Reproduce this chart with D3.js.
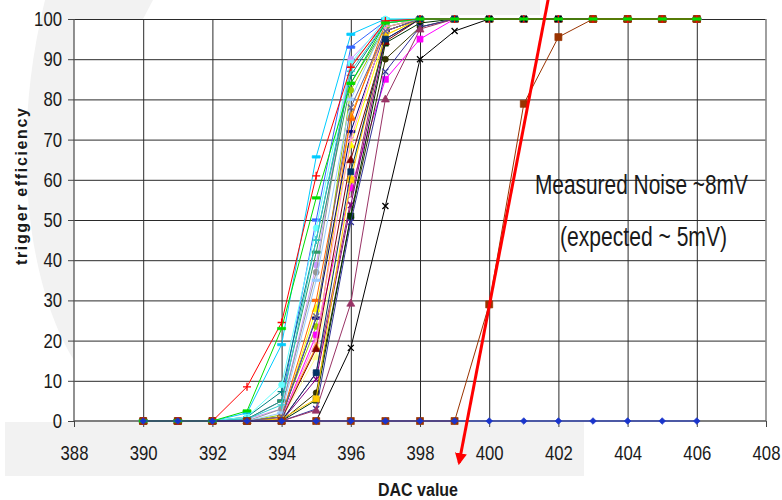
<!DOCTYPE html>
<meta charset="utf-8">
<style>
body { margin: 0; background: #fff; font-family: "Liberation Sans", Arial, sans-serif; }
.tick text { font-size: 20px; fill: #1a1a1a; font-family: "Liberation Sans", Arial, sans-serif; }
.axis path { display: none; }
.axis line { stroke: #444; }
.grid line { stroke: #2a2a2a; stroke-width: 1px; }
.grid path { display: none; }
.series { fill: none; stroke-width: 1px; }
</style>
<body>
<script src="https://d3js.org/d3.v7.min.js"></script>
<script>
// DAC settings scanned
var dacValues = [390, 391, 392, 393, 394, 395, 396, 397, 398, 399, 400, 401, 402, 403, 404, 405, 406];
var xTicks = [388, 390, 392, 394, 396, 398, 400, 402, 404, 406, 408];
var yTicks = [0, 10, 20, 30, 40, 50, 60, 70, 80, 90, 100];

// trigger efficiency (%) per channel, one value per DAC setting
var chSky      = [0, 0, 0, 2, 19, 65.7, 96.2, 100, 100, 100, 100, 100, 100, 100, 100, 100, 100];
var chBlue     = [0, 0, 0, 0.5, 5, 50, 93, 99.5, 100, 100, 100, 100, 100, 100, 100, 100, 100];
var chLavender = [0, 0, 0, 0.5, 3, 38.8, 90, 99, 100, 100, 100, 100, 100, 100, 100, 100, 100];
var chGray     = [0, 0, 0, 0, 3, 37, 88.5, 99, 100, 100, 100, 100, 100, 100, 100, 100, 100];
var chTeal     = [0, 0, 0, 1, 7.3, 45, 86, 99, 100, 100, 100, 100, 100, 100, 100, 100, 100];
var chSeaGreen = [0, 0, 0, 0.5, 5, 42, 84, 98, 100, 100, 100, 100, 100, 100, 100, 100, 100];
var chCyan     = [0, 0, 0, 1, 9, 48, 89, 100, 100, 100, 100, 100, 100, 100, 100, 100, 100];
var chLime     = [0, 0, 0, 0, 1.5, 23.5, 82.3, 98, 100, 100, 100, 100, 100, 100, 100, 100, 100];
var chOrange   = [0, 0, 0, 0, 1, 18.5, 76, 97, 100, 100, 100, 100, 100, 100, 100, 100, 100];
var chYellow   = [0, 0, 0, 0, 0.5, 28, 68.7, 96, 100, 100, 100, 100, 100, 100, 100, 100, 100];
var chNavy     = [0, 0, 0, 0, 1, 25.6, 72, 97, 100, 100, 100, 100, 100, 100, 100, 100, 100];
var chMagenta  = [0, 0, 0, 0, 0.5, 21.4, 58, 85, 95, 100, 100, 100, 100, 100, 100, 100, 100];
var chPaleYel  = [0, 0, 0, 0, 0.5, 16, 61, 96, 100, 100, 100, 100, 100, 100, 100, 100, 100];
var chRing     = [0, 0, 0, 0, 0, 12, 55, 97, 100, 100, 100, 100, 100, 100, 100, 100, 100];
var chPurple   = [0, 0, 0, 0, 0, 10.4, 53.7, 95, 100, 100, 100, 100, 100, 100, 100, 100, 100];
var chDkOlive  = [0, 0, 0, 0, 0, 7, 50.7, 90, 98, 100, 100, 100, 100, 100, 100, 100, 100];
var chDkGreen  = [0, 0, 0, 0, 0, 5.2, 51, 94, 99, 100, 100, 100, 100, 100, 100, 100, 100];
var chIndigo   = [0, 0, 0, 0, 0, 3, 49.5, 86.9, 98, 100, 100, 100, 100, 100, 100, 100, 100];
var chMauve    = [0, 0, 0, 0, 0, 2.7, 29.3, 80.1, 97.5, 100, 100, 100, 100, 100, 100, 100, 100];
var chOrange2  = [0, 0, 0, 0, 1, 30, 75, 99, 100, 100, 100, 100, 100, 100, 100, 100, 100];
var chPink     = [0, 0, 0, 0, 0.5, 20, 70, 98, 100, 100, 100, 100, 100, 100, 100, 100, 100];
var chLtBlue   = [0, 0, 0, 0, 2, 35, 80, 99, 100, 100, 100, 100, 100, 100, 100, 100, 100];
var chMaroon   = [0, 0, 0, 0, 0.5, 18, 65, 94.4, 100, 100, 100, 100, 100, 100, 100, 100, 100];
var chGold     = [0, 0, 0, 0, 0.5, 5.5, 60, 96, 100, 100, 100, 100, 100, 100, 100, 100, 100];
var chTurq     = [0, 0, 0, 0.5, 4, 45, 87, 99, 100, 100, 100, 100, 100, 100, 100, 100, 100];
var chSlate    = [0, 0, 0, 0, 1, 26, 78, 97, 100, 100, 100, 100, 100, 100, 100, 100, 100];
var chDkTeal   = [0, 0, 0, 0, 0, 12, 62, 95, 100, 100, 100, 100, 100, 100, 100, 100, 100];
var chBlack    = [0, 0, 0, 0, 0, 0, 18.2, 53.5, 90, 97, 100, 100, 100, 100, 100, 100, 100];
var chBrown    = [0, 0, 0, 0, 0, 0, 0, 0, 0, 0, 29, 78.9, 95.5, 100, 100, 100, 100];
var chRed      = [0, 0, 0, 8.5, 24.5, 61, 88, 99.5, 100, 100, 100, 100, 100, 100, 100, 100, 100];
var chGreen    = [0, 0, 0, 2.5, 23, 55.5, 84, 99, 100, 100, 100, 100, 100, 100, 100, 100, 100];
var chDead     = [0, 0, 0, 0, 0, 0, 0, 0, 0, 0, 0, 0, 0, 0, 0, 0, 0];

var seriesList = [chSky, chBlue, chLavender, chGray, chTeal, chSeaGreen, chCyan, chLime, chOrange,
    chYellow, chNavy, chMagenta, chPaleYel, chRing, chPurple, chDkOlive, chDkGreen, chIndigo, chMauve,
    chOrange2, chPink, chLtBlue, chMaroon, chGold, chTurq, chSlate, chDkTeal, chBlack, chBrown, chRed,
    chGreen, chDead];

// styles, same order as seriesList
var seriesColors = ["#00ccff", "#3366ff", "#cc99ff", "#969696", "#008080", "#339966", "#66ffff", "#99cc00", "#ff9900",
    "#ffff00", "#000080", "#ff00ff", "#ffff99", "#993366", "#800080", "#333300", "#003300", "#333399", "#993366",
    "#ff6600", "#ff99cc", "#99ccff", "#800000", "#ffcc00", "#33cccc", "#666699", "#003366", "#000000", "#993300", "#ff0000",
    "#00dd00", "#1a35cc"];
var seriesMarkers = ["dash", "dash", "circle", "circle", "plus", "dash", "circle", "circle", "triangle",
    "triangle", "dash", "square", "triangle", "ring", "x", "circle", "square", "x", "triangle",
    "dash", "x", "dash", "triangle", "square", "plus", "x", "square", "x", "square", "plus",
    "dash", "diamond"];
var seriesWidths = [1, 1, 1, 1, 1, 1, 1, 1, 1, 1, 1, 1, 1, 1, 1, 1, 1, 1, 1, 1, 1, 1, 1, 1, 1, 1, 1, 1, 1, 1, 1.8, 2.6];

// annotation: red arrow, given in data units
var arrowFrom = [401.79, 108.7];
var arrowTo = [399.13, -10.4];
var noteLines = ["Measured Noise ~8mV", "(expected ~ 5mV)"];
var noteAt = [[404.4, 56.5], [404.46, 43.5]];

var W = 782, H = 500;
var plot = {left: 74, right: 766, top: 19, bottom: 421};

var x = d3.scaleLinear().domain([388, 408]).range([plot.left, plot.right]);
var y = d3.scaleLinear().domain([0, 100]).range([plot.bottom, plot.top]);

var svg = d3.select("body").append("svg")
    .attr("width", W)
    .attr("height", H);

// faint slide background shapes
svg.append("path")
    .attr("d", "M45,0 L153,0 L143,19 L74,19 L74,360 C30,290 8,150 45,0 Z")
    .attr("fill", "#f2f2f2");
svg.append("rect").attr("x", 5).attr("y", 422).attr("width", 579).attr("height", 54).attr("fill", "#f2f2f2");
svg.append("rect").attr("x", 440).attr("y", 0).attr("width", 100).attr("height", 15).attr("fill", "#f2f2f2");

// plot area
svg.append("rect")
    .attr("x", plot.left).attr("y", plot.top)
    .attr("width", plot.right - plot.left).attr("height", plot.bottom - plot.top)
    .attr("fill", "#fff");

// grid
svg.append("g")
    .attr("class", "grid")
    .attr("transform", "translate(" + plot.left + ",0)")
    .call(d3.axisLeft(y).tickValues(yTicks.slice(1)).tickSize(-(plot.right - plot.left)).tickFormat(""))
    .selectAll("line").attr("stroke", function (d) { return d === 100 ? "#777" : "#333"; })
    .attr("stroke-width", function (d) { return d === 100 ? 1.6 : 1; });
svg.append("g")
    .attr("class", "grid")
    .attr("transform", "translate(0," + plot.bottom + ")")
    .call(d3.axisBottom(x).tickValues(xTicks.slice(1, -1)).tickSize(-(plot.bottom - plot.top)).tickFormat(""));

// plot border (right) and axis lines
svg.append("line").attr("x1", plot.right).attr("x2", plot.right).attr("y1", plot.top).attr("y2", plot.bottom)
    .attr("stroke", "#888").attr("stroke-width", 1.6);
svg.append("line").attr("x1", plot.left).attr("x2", plot.left).attr("y1", plot.top).attr("y2", plot.bottom)
    .attr("stroke", "#555").attr("stroke-width", 1.3);
svg.append("line").attr("x1", plot.left).attr("x2", plot.right).attr("y1", plot.bottom).attr("y2", plot.bottom)
    .attr("stroke", "#555").attr("stroke-width", 1.6);

// axes
svg.append("g")
    .attr("class", "axis")
    .attr("transform", "translate(" + plot.left + ",0)")
    .call(d3.axisLeft(y).tickValues(yTicks).tickSize(6).tickPadding(6));
svg.append("g")
    .attr("class", "axis")
    .attr("transform", "translate(0," + plot.bottom + ")")
    .call(d3.axisBottom(x).tickValues(xTicks).tickSize(6).tickPadding(19));
svg.selectAll(".axis .tick text")
    .attr("textLength", function (d) { return String(d).length * 9.3; })
    .attr("lengthAdjust", "spacingAndGlyphs");

// marker shapes
function markerPath(type, r) {
    switch (type) {
        case "square": return "M" + (-r) + "," + (-r) + "h" + 2 * r + "v" + 2 * r + "h" + (-2 * r) + "Z";
        case "diamond": return "M0," + (-r - 1) + "L" + (r + 1) + ",0L0," + (r + 1) + "L" + (-r - 1) + ",0Z";
        case "triangle": return "M0," + (-r - 1) + "L" + (r + 1) + "," + r + "L" + (-r - 1) + "," + r + "Z";
        case "x": return "M" + (-r) + "," + (-r) + "L" + r + "," + r + "M" + (-r) + "," + r + "L" + r + "," + (-r);
        case "plus": return "M" + (-r - 1) + ",0H" + (r + 1) + "M0," + (-r - 1) + "V" + (r + 1);
        case "dash": return "M" + (-r - 1) + ",-1.2h" + (2 * r + 2) + "v2.4h" + (-2 * r - 2) + "Z";
        default: return d3.symbol(d3.symbolCircle, Math.PI * r * r)();
    }
}

var line = d3.line()
    .x(function (d) { return x(d.dac); })
    .y(function (d) { return y(d.v); });

var series = svg.append("g");
seriesList.forEach(function (vals, i) {
    var pts = dacValues.map(function (d, j) { return {dac: d, v: vals[j]}; });
    var col = seriesColors[i];
    var mk = seriesMarkers[i];
    series.append("path")
        .datum(pts)
        .attr("class", "series")
        .attr("stroke", col)
        .attr("stroke-width", seriesWidths[i])
        .attr("d", line);
    var stroked = (mk === "x" || mk === "plus");
    var r = mk === "diamond" ? 2.3 : (mk === "square" && vals === chBrown ? 3.5 : 3);
    series.append("g").selectAll("path")
        .data(pts)
        .join("path")
        .attr("transform", function (d) { return "translate(" + x(d.dac) + "," + y(d.v) + ")"; })
        .attr("d", markerPath(mk, r))
        .attr("fill", stroked ? "none" : (mk === "ring" ? "#fff" : col))
        .attr("stroke", col)
        .attr("stroke-width", stroked ? 1.3 : 0.7);
});

// red arrow annotation
svg.append("defs").append("marker")
    .attr("id", "arrowhead")
    .attr("viewBox", "0 0 10 10")
    .attr("refX", 8).attr("refY", 5)
    .attr("markerWidth", 4).attr("markerHeight", 4)
    .attr("orient", "auto")
    .append("path")
    .attr("d", "M0,0 L10,5 L0,10 Z")
    .attr("fill", "#ff0000");
svg.append("line")
    .attr("x1", x(arrowFrom[0])).attr("y1", y(arrowFrom[1]))
    .attr("x2", x(arrowTo[0])).attr("y2", y(arrowTo[1]))
    .attr("stroke", "#ff0000")
    .attr("stroke-width", 3)
    .attr("marker-end", "url(#arrowhead)");

// notes
svg.selectAll(".note")
    .data(noteLines)
    .join("text")
    .attr("class", "note")
    .attr("x", function (d, i) { return x(noteAt[i][0]); })
    .attr("y", function (d, i) { return y(noteAt[i][1]); })
    .attr("text-anchor", "middle")
    .attr("font-size", 27)
    .attr("fill", "#1a1a1a")
    .attr("textLength", function (d, i) { return i === 0 ? 213 : 167; })
    .attr("lengthAdjust", "spacingAndGlyphs")
    .text(function (d) { return d; });

// axis titles
svg.append("text")
    .attr("transform", "translate(27,186.5) rotate(-90)")
    .attr("text-anchor", "middle")
    .attr("font-size", 16)
    .attr("font-weight", "bold")
    .attr("fill", "#1a1a1a")
    .attr("textLength", 157)
    .attr("lengthAdjust", "spacing")
    .text("trigger efficiency");
svg.append("text")
    .attr("x", 418)
    .attr("y", 496)
    .attr("text-anchor", "middle")
    .attr("font-size", 18)
    .attr("font-weight", "bold")
    .attr("fill", "#1a1a1a")
    .attr("textLength", 80)
    .attr("lengthAdjust", "spacingAndGlyphs")
    .text("DAC value");
</script>
</body>
